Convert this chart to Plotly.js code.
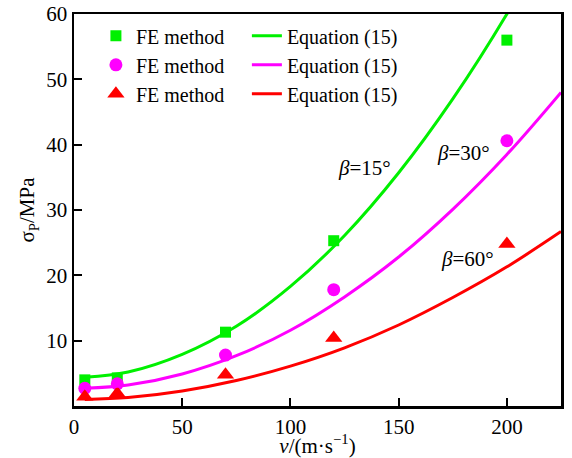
<!DOCTYPE html>
<html>
<head>
<meta charset="utf-8">
<script src="https://cdn.plot.ly/plotly-3.0.1.min.js"></script>
<style>html,body{margin:0;padding:0;background:#fff;}#chart{width:572px;height:458px;}</style>
</head>
<body>
<div id="chart"></div>
<script>
// FE method sample points
const vFE = [5, 20, 70, 120, 200];
const fe15 = [4.0, 4.3, 11.3, 25.3, 56.0];
const fe30 = [2.7, 3.4, 7.8, 17.8, 40.6];
const fe60 = [1.4, 1.9, 4.8, 10.4, 24.8];

// Equation (15) curves
const vEq = [5, 25, 50, 75, 100, 125, 150, 175, 200, 225];
const eq15 = [4.4, 5.2, 7.9, 12.2, 18.3, 26.1, 35.7, 47.0, 60.0, 74.8];
const eq30 = [2.7, 3.2, 4.9, 7.7, 11.6, 16.7, 22.8, 30.1, 38.5, 48.0];
const eq60 = [1.0, 1.3, 2.3, 3.9, 6.1, 8.9, 12.4, 16.6, 21.3, 26.7];

const xTicks = [0, 50, 100, 150, 200];
const yTicks = [10, 20, 30, 40, 50, 60];

const labels = ['<i>β</i>=15°', '<i>β</i>=30°', '<i>β</i>=60°'];
const labelX = [134, 180, 182];
const labelY = [36.5, 38.8, 22.5];

const green = '#00f000', magenta = '#ff00ff', red = '#ff0000';
const FONT = "'Liberation Serif', 'Times New Roman', serif";

const data = [
  {x: vFE, y: fe15, mode: 'markers', name: 'FE method', legend: 'legend',
   marker: {symbol: 'square', size: 11, color: green}},
  {x: vFE, y: fe30, mode: 'markers', name: 'FE method', legend: 'legend',
   marker: {symbol: 'circle', size: 13, color: magenta}},
  {x: vFE, y: fe60, mode: 'markers', name: 'FE method', legend: 'legend',
   marker: {symbol: 'triangle-up', size: 15, color: red}},
  {x: vEq, y: eq15, mode: 'lines', name: 'Equation (15)', legend: 'legend2',
   line: {color: green, width: 3, shape: 'spline'}},
  {x: vEq, y: eq30, mode: 'lines', name: 'Equation (15)', legend: 'legend2',
   line: {color: magenta, width: 3, shape: 'spline'}},
  {x: vEq, y: eq60, mode: 'lines', name: 'Equation (15)', legend: 'legend2',
   line: {color: red, width: 3, shape: 'spline'}}
];

const axisCommon = {
  showgrid: false, zeroline: false, showline: true, mirror: true,
  linecolor: '#000', linewidth: 2.5, ticks: 'inside', ticklen: 8, tickwidth: 2,
  tickcolor: '#000', tickfont: {family: FONT, size: 21, color: '#000'}
};

const layout = {
  width: 572, height: 458,
  margin: {l: 74, r: 11, t: 14, b: 52},
  paper_bgcolor: '#fff', plot_bgcolor: '#fff',
  font: {family: FONT, size: 21, color: '#000'},
  showlegend: true,
  xaxis: Object.assign({}, axisCommon, {
    range: [0, 225], tickvals: xTicks, ticktext: xTicks.map(String),
    title: {text: '<i>v</i>/(m·s<sup>−1</sup>)', font: {family: FONT, size: 21}, standoff: 0}
  }),
  yaxis: Object.assign({}, axisCommon, {
    range: [0, 60], tickvals: yTicks, ticktext: yTicks.map(String),
    title: {text: 'σ<sub>P</sub>/MPa', font: {family: FONT, size: 21}, standoff: 6}
  }),
  legend: {x: 0.045, y: 0.994, xanchor: 'left', yanchor: 'top', bgcolor: 'rgba(0,0,0,0)',
    borderwidth: 0, font: {family: FONT, size: 20}, tracegroupgap: 0, itemwidth: 30},
  legend2: {x: 0.355, y: 0.994, xanchor: 'left', yanchor: 'top', bgcolor: 'rgba(0,0,0,0)',
    borderwidth: 0, font: {family: FONT, size: 20}, tracegroupgap: 0, itemwidth: 30},
  annotations: labels.map((t, i) => ({
    x: labelX[i], y: labelY[i], xref: 'x', yref: 'y', text: t, showarrow: false,
    font: {family: FONT, size: 21, color: '#000'}
  }))
};

Plotly.newPlot('chart', data, layout, {displayModeBar: false, staticPlot: true});
</script>
</body>
</html>
